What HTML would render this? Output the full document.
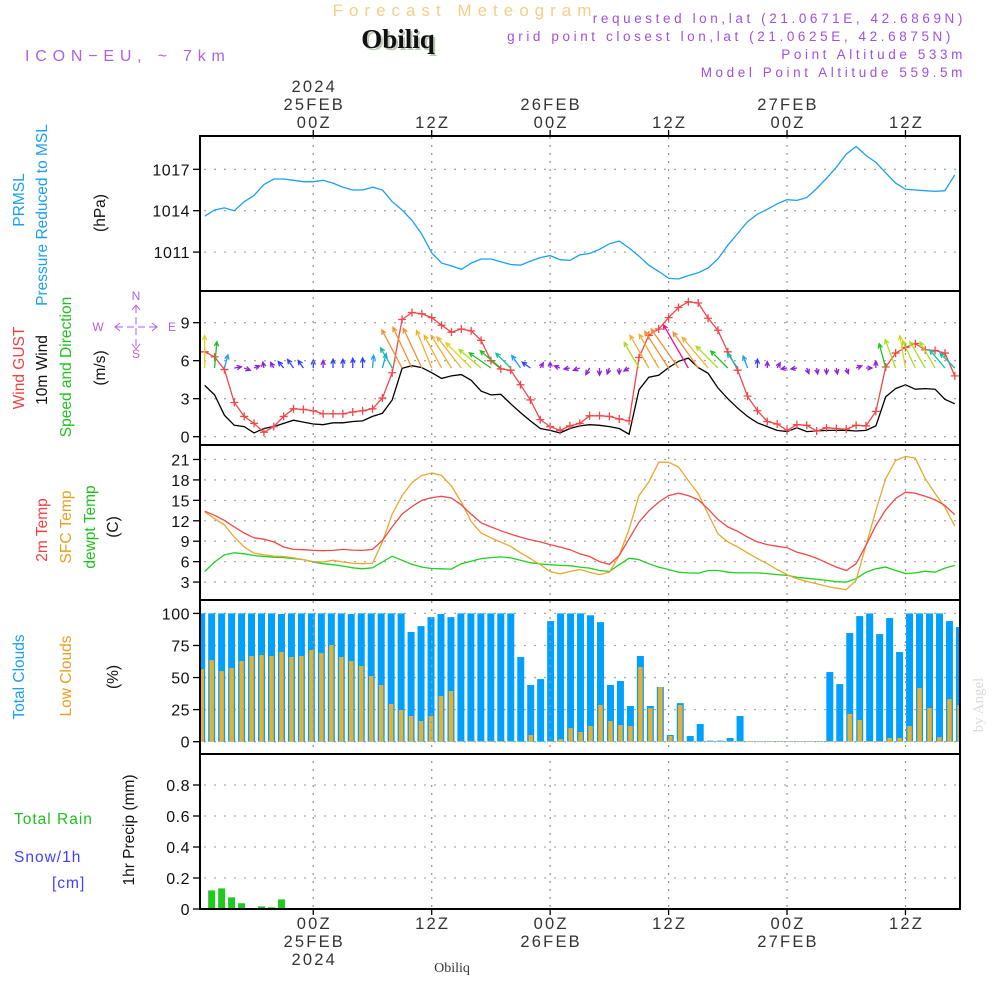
<!DOCTYPE html>
<html><head><meta charset="utf-8"><style>
html,body{margin:0;padding:0;background:#fff;}
svg{display:block;font-family:"Liberation Sans",sans-serif;}
</style></head><body>
<svg id="chart" width="1000" height="1000" viewBox="0 0 1000 1000" xmlns="http://www.w3.org/2000/svg">
<defs>
<clipPath id="cp"><rect x="201" y="137" width="758" height="772"/></clipPath>
</defs>
<!-- header -->
<text x="465" y="16" text-anchor="middle" font-size="17" fill="#f5cf88" letter-spacing="6">Forecast Meteogram</text>
<text x="400" y="50" text-anchor="middle" font-size="27" font-weight="bold" fill="#bcc8b8" font-family="Liberation Serif,serif">Obiliq</text>
<text x="398" y="48" text-anchor="middle" font-size="27" font-weight="bold" fill="#111" font-family="Liberation Serif,serif">Obiliq</text>
<text x="25" y="61" font-size="16" fill="#b060e0" letter-spacing="5.8">ICON−EU, ~ 7km</text>
<g font-size="13.5" fill="#a050e0" text-anchor="end" letter-spacing="3.6">
<text x="966" y="23">requested lon,lat (21.0671E, 42.6869N)</text>
<text x="954" y="41">grid point closest lon,lat (21.0625E, 42.6875N)</text>
<text x="966" y="59">Point Altitude 533m</text>
<text x="966" y="77">Model Point Altitude 559.5m</text>
</g>
<!-- left titles -->
<g font-size="15.5">
<text transform="translate(24,200) rotate(-90)" text-anchor="middle" fill="#1aa0f0">PRMSL</text>
<text transform="translate(47,215) rotate(-90)" text-anchor="middle" fill="#1aa0f0">Pressure Reduced to MSL</text>
<text transform="translate(105,213) rotate(-90)" text-anchor="middle" fill="#111">(hPa)</text>
<text transform="translate(24,368) rotate(-90)" text-anchor="middle" fill="#f04040">Wind GUST</text>
<text transform="translate(47,370) rotate(-90)" text-anchor="middle" fill="#111">10m Wind</text>
<text transform="translate(71,367) rotate(-90)" text-anchor="middle" fill="#20c020">Speed and Direction</text>
<text transform="translate(105,368) rotate(-90)" text-anchor="middle" fill="#111">(m/s)</text>
<text transform="translate(47,530) rotate(-90)" text-anchor="middle" fill="#f04040">2m Temp</text>
<text transform="translate(71,527) rotate(-90)" text-anchor="middle" fill="#e8a020">SFC Temp</text>
<text transform="translate(95,527) rotate(-90)" text-anchor="middle" fill="#20c020">dewpt Temp</text>
<text transform="translate(118,527) rotate(-90)" text-anchor="middle" fill="#111">(C)</text>
<text transform="translate(24,677) rotate(-90)" text-anchor="middle" fill="#1aa0f0">Total Clouds</text>
<text transform="translate(71,676) rotate(-90)" text-anchor="middle" fill="#e8a020">Low Clouds</text>
<text transform="translate(118,677) rotate(-90)" text-anchor="middle" fill="#111">(%)</text>
<text x="14" y="824" fill="#20c020" letter-spacing="1">Total  Rain</text>
<text x="14" y="862" fill="#4040ff" letter-spacing="1">Snow/1h</text>
<text x="52" y="888" fill="#4040ff" letter-spacing="1">[cm]</text>
<text transform="translate(134,830) rotate(-90)" text-anchor="middle" fill="#111">1hr Precip (mm)</text>
</g>
<g fill="#b060e0" stroke="#b060e0" font-size="12">
<text x="136" y="300" text-anchor="middle" stroke="none">N</text>
<text x="98" y="331" text-anchor="middle" stroke="none">W</text>
<text x="172" y="331" text-anchor="middle" stroke="none">E</text>
<text x="136" y="358" text-anchor="middle" stroke="none">S</text>
<path d="M116 327H157M136 306V348" stroke-dasharray="7,4" fill="none"/>
<path d="M120 323L115 327L120 331M152 323L157 327L152 331M132 310L136 305L140 310M132 344L136 349L140 344" fill="none"/>
</g>
<text transform="translate(983,705) rotate(-90)" text-anchor="middle" font-size="15" fill="#d8ddd8" font-family="Liberation Serif,serif">by Angel</text>
<text x="452" y="972" text-anchor="middle" font-size="14" fill="#333" font-family="Liberation Serif,serif">Obiliq</text>
<g id="content"></g>
</svg>
<script>
// ---- data (hourly, from 13Z 24FEB) ----
const timeTicks = [11, 23, 35, 47, 59, 71];
const timeLabelsZ = ["00Z","12Z","00Z","12Z","00Z","12Z"];
const timeLabelsDay = ["25FEB","","26FEB","","27FEB",""];
const pressure = [1013.6,1014.05,1014.2,1014.0,1014.65,1015.1,1015.9,1016.3,1016.3,1016.2,1016.1,1016.1,1016.2,1016.0,1015.7,1015.5,1015.5,1015.7,1015.5,1014.65,1014.05,1013.3,1012.3,1010.95,1010.2,1010.0,1009.75,1010.2,1010.5,1010.5,1010.3,1010.1,1010.05,1010.35,1010.6,1010.75,1010.45,1010.4,1010.8,1010.9,1011.2,1011.6,1011.8,1011.3,1010.7,1010.05,1009.6,1009.1,1009.05,1009.3,1009.5,1009.85,1010.5,1011.5,1012.35,1013.2,1013.75,1014.1,1014.5,1014.8,1014.75,1014.95,1015.6,1016.35,1017.15,1018.1,1018.65,1018.0,1017.5,1016.75,1016.0,1015.55,1015.5,1015.45,1015.4,1015.45,1016.6];
const gust = [6.7,6.3,5.3,2.7,1.6,1.05,0.35,0.8,1.6,2.2,2.15,2.05,1.8,1.8,1.8,1.95,2.05,2.2,3.05,5.05,9.25,9.8,9.7,9.4,8.8,8.25,8.5,8.35,7.6,6.0,5.35,5.25,4.1,2.9,1.35,0.8,0.5,0.85,1.05,1.65,1.65,1.6,1.4,1.25,6.25,8.0,8.5,9.4,10.2,10.65,10.55,9.35,8.4,6.7,5.25,3.2,2.05,1.2,1.0,0.5,0.95,0.9,0.45,0.7,0.65,0.6,0.9,0.85,2.0,5.5,6.6,7.05,7.35,6.85,6.8,6.6,4.8];
const wind10m = [4.05,3.3,1.7,0.9,0.8,0.3,0.65,0.8,1.05,1.3,1.15,1.0,0.95,1.1,1.1,1.2,1.25,1.6,1.85,2.9,5.4,5.6,5.45,5.05,4.6,4.8,4.9,4.45,3.6,3.3,3.35,2.6,1.9,1.25,0.65,0.5,0.3,0.65,0.85,0.95,0.9,0.8,0.65,0.2,3.7,4.7,4.85,5.45,5.95,6.2,5.45,5.0,3.85,3.0,2.25,1.6,1.1,0.8,0.5,0.4,0.7,0.4,0.45,0.5,0.5,0.5,0.45,0.5,0.85,3.15,3.8,4.1,3.75,3.8,3.75,2.95,2.6];
const windDirFrom = [180,185,195,260,290,250,170,150,140,145,145,180,180,180,180,180,180,185,195,150,152,155,155,158,152,148,142,135,130,125,130,135,145,125,210,180,110,80,70,30,0,20,0,60,150,150,150,147,145,150,145,140,135,135,145,160,180,180,210,80,80,340,350,0,350,340,250,270,180,165,160,170,155,150,150,140,135];
const temp2m = [13.4,12.8,12.05,11.1,10.2,9.5,9.3,8.9,8.15,7.8,7.75,7.65,7.6,7.65,7.8,7.7,7.65,7.8,9.1,11.1,13.0,14.1,15.0,15.4,15.6,15.35,14.35,12.95,11.7,11.1,10.55,10.05,9.6,9.2,8.9,8.5,8.15,7.75,7.15,6.75,6.0,5.6,6.9,9.35,11.8,13.45,14.75,15.7,16.05,15.7,15.1,13.75,12.2,11.1,10.45,9.6,8.9,8.5,8.25,8.05,7.4,7.0,6.5,5.85,5.2,4.7,5.7,8.4,11.3,13.6,15.25,16.2,16.05,15.6,15.1,14.25,12.9];
const tempSfc = [13.3,12.3,11.4,9.6,8.15,7.25,7.0,6.8,6.75,6.55,6.3,6.0,5.95,6.2,5.95,5.75,5.7,5.75,8.9,13.0,15.7,17.6,18.65,19.0,18.65,17.1,14.75,11.9,10.2,9.5,8.85,8.25,7.3,6.45,5.55,4.55,4.2,4.55,4.85,4.45,4.1,4.45,6.9,10.8,15.7,17.7,20.6,20.6,19.9,17.9,16.0,13.0,10.1,8.9,8.15,7.3,6.45,5.7,4.85,4.1,3.5,3.1,2.75,2.4,2.1,1.9,3.25,8.4,13.5,18.2,20.85,21.45,21.2,18.2,16.0,14.0,11.2];
const dewpt = [4.55,5.95,7.0,7.3,7.15,6.9,6.75,6.65,6.6,6.45,6.3,5.95,5.7,5.55,5.35,5.1,4.95,5.1,5.95,6.8,6.2,5.6,5.2,5.0,4.95,4.9,5.7,6.05,6.45,6.6,6.7,6.55,6.2,5.85,5.65,5.55,5.45,5.4,5.2,5.05,4.7,4.55,5.55,6.5,6.3,5.7,5.2,4.85,4.45,4.35,4.3,4.7,4.7,4.45,4.35,4.35,4.35,4.25,4.1,4.0,3.7,3.55,3.4,3.25,3.05,3.0,3.5,4.45,4.95,5.2,4.7,4.25,4.35,4.6,4.45,5.05,5.45];
const totalClouds = [100,100,100,100,100,100,100,100,99.5,100,100,100,100,100,100,99.5,100,100,100,100,100,85.5,90.1,97.1,99.5,97.1,100,100,100,100,100,100,66,44.2,48.8,94,100,100,100,98.5,93.2,44.2,47.3,27.8,66.8,27.8,42.6,5.2,30.1,4.4,13.8,0.8,0.8,2.9,20,0.5,0.5,0.5,0.5,0.5,0.5,0.5,0.5,54.3,44.9,84.7,97.9,100,83.9,96.4,69.9,100,100,100,100,94,89.4];
const lowClouds = [56.6,63.6,55,57.4,62.9,66.8,67.5,66.8,69.9,66,66.8,71.4,69.1,75.3,66,62.9,59,51.2,44.2,29.4,24.7,20,16.1,20,35.6,39.5,0.5,0.5,0.5,0.5,0.5,0.5,0,5.2,0,0.5,2,10.6,7.5,12.2,28.6,16.1,13,12.2,58.2,26.2,42.6,4.4,28.6,0.3,0.3,0.3,0.3,0.3,0.5,0.5,0.5,0.5,0.5,0.5,0.5,0.5,0.5,0.5,0.5,21.6,16.9,0.5,0.5,2.9,2.9,12.2,41.8,26.2,3.6,33.2,28.6];
const precip = [0,0.12,0.133,0.075,0.037,0.005,0.017,0.011,0.062,0.005];
const pTicks = [1011,1014,1017];
const wTicks = [0,3,6,9];
const tTicks = [3,6,9,12,15,18,21];
const cTicks = [0,25,50,75,100];
const rTicks = [0,0.2,0.4,0.6,0.8];
const rTickLabels = ["0","0.2","0.4","0.6","0.8"];

// ---- scales ----
const xL = i => 204.7 + 9.87 * i;
const xB = b => 201.7 + 9.97 * b;
const yP = v => 169.3 + (1017 - v) * 13.8;
const yW = v => 436.7 - v * 12.67;
const yT = v => 602.5 - v * 6.81;
const yC = v => 741.7 - v * 1.283;
const yR = v => 909 - v * 155;

const NS = "http://www.w3.org/2000/svg";
const root = document.getElementById('content');
function mk(tag, attrs, parent) {
  const e = document.createElementNS(NS, tag);
  for (const k in attrs) e.setAttribute(k, attrs[k]);
  (parent || root).appendChild(e);
  return e;
}
const L = 200, R = 960;
const panels = [[136,291],[291,445],[445,600],[600,754],[754,909]];

// grid
const grid = mk('g', {stroke:'#aaa','stroke-width':1.3,'stroke-dasharray':'2,8',fill:'none'});


function hgrid(ticks, sc) { ticks.forEach(t => mk('line',{x1:L+4,x2:R-2,y1:sc(t),y2:sc(t)},grid)); }
hgrid(pTicks,yP); hgrid(wTicks,yW); hgrid(tTicks,yT); hgrid(cTicks,yC); hgrid(rTicks,yR);

const plot = mk('g', {'clip-path':'url(#cp)'});



// clouds
totalClouds.forEach((v,b) => {
  const r = mk('rect',{x:xB(b)-3.5,y:yC(v),width:7,height:yC(0)-yC(v),fill:'#00a0ff'},plot);
  
  
});
lowClouds.forEach((v,b) => {
  const r = mk('rect',{x:xB(b)-2.2,y:yC(v),width:4.4,height:yC(0)-yC(v),fill:'#e8b030'},plot);
  
  
});
// precip
precip.forEach((v,b) => {
  const r = mk('rect',{x:xB(b)-3.5,y:yR(v),width:7,height:yR(0)-yR(v),fill:'#20c820'},plot);
  
  
});

// vertical time grid on top
const vg = mk('g', {stroke:'#999','stroke-width':1.3,'stroke-dasharray':'2,6'});


timeTicks.forEach(t => mk('line',{x1:xL(t),x2:xL(t),y1:137,y2:908},vg));

function line(arr, sc, color, name, w) {
  const d = arr.map((v,i) => (i?'L':'M') + xL(i).toFixed(1) + ' ' + sc(v).toFixed(1)).join('');
  const p = mk('path',{d:d,stroke:color,'stroke-width':w||1.3,fill:'none'},plot);
  
  
  return p;
}
line(pressure, yP, '#1aa0f0', 'pressure-line');
line(wind10m, yW, '#000', 'wind-10m-line');
line(gust, yW, '#f04848', 'gust-line');
const gm = mk('g',{stroke:'#f04848','stroke-width':1.3},plot);


gust.forEach((v,i) => { const x=xL(i), y=yW(v); mk('path',{d:`M${x-4} ${y}H${x+4}M${x} ${y-4}V${y+4}`},gm); });

// wind arrows
function wcol(s) {
  if (s < 1.0) return '#9020e0';
  if (s < 1.5) return '#3040ff';
  if (s < 2.2) return '#1aa0ff';
  if (s < 3.0) return '#10c0a0';
  if (s < 3.5) return '#20c020';
  if (s < 4.0) return '#a8e020';
  if (s < 4.5) return '#e8d020';
  if (s < 5.2) return '#f0b030';
  if (s < 6.0) return '#f09030';
  return '#f0108c';
}
const ag = mk('g',{fill:'none','stroke-width':1.3},plot);


windDirFrom.forEach((dir,i) => {
  const s = wind10m[i];
  const len = Math.max(6, s * 8);
  const a = (dir + 180) * Math.PI / 180;
  const x0 = xL(i), y0 = 368;
  const x1 = x0 + Math.sin(a)*len, y1 = y0 - Math.cos(a)*len;
  const h = 5, ha = 0.45;
  const bx = -Math.sin(a), by = Math.cos(a);
  const hx1 = x1 + h*(bx*Math.cos(ha) - by*Math.sin(ha)), hy1 = y1 + h*(bx*Math.sin(ha) + by*Math.cos(ha));
  const hx2 = x1 + h*(bx*Math.cos(-ha) - by*Math.sin(-ha)), hy2 = y1 + h*(bx*Math.sin(-ha) + by*Math.cos(-ha));
  const p = mk('path',{d:`M${x0} ${y0}L${x1} ${y1}M${hx1} ${hy1}L${x1} ${y1}L${hx2} ${hy2}`,stroke:wcol(s)},ag);
  
  
});

line(dewpt, yT, '#20d020', 'dewpoint-line');
line(tempSfc, yT, '#e8a830', 'sfc-temp-line');
line(temp2m, yT, '#f04848', '2m-temp-line');

// frames & ticks
const fr = mk('g',{stroke:'#000',fill:'none'});


panels.forEach(p => mk('rect',{x:L,y:p[0],width:R-L,height:p[1]-p[0],'stroke-width':2},fr));
const tk = mk('g',{'font-size':16,fill:'#111','text-anchor':'end','letter-spacing':0.5});


function yt(ticks, sc, labels) {
  ticks.forEach((t,k) => {
    mk('line',{x1:L-7,x2:L,y1:sc(t),y2:sc(t),stroke:'#000','stroke-width':1.3},fr);
    const e = mk('text',{x:L-10,y:sc(t)+6},tk); e.textContent = labels ? labels[k] : String(t);
  });
}
yt(pTicks,yP); yt(wTicks,yW); yt(tTicks,yT); yt(cTicks,yC); yt(rTicks,yR,rTickLabels);

const tl = mk('g',{'font-size':16.5,fill:'#333','text-anchor':'middle','letter-spacing':2.2});


timeTicks.forEach((t,k) => {
  const x = xL(t);
  mk('line',{x1:x,x2:x,y1:130,y2:136,stroke:'#000','stroke-width':1.3},fr);
  mk('line',{x1:x,x2:x,y1:909,y2:915,stroke:'#000','stroke-width':1.3},fr);
  let e = mk('text',{x:x+1,y:128},tl); e.textContent = timeLabelsZ[k];
  e = mk('text',{x:x+1,y:929},tl); e.textContent = timeLabelsZ[k];
  if (timeLabelsDay[k]) {
    e = mk('text',{x:x+1,y:110},tl); e.textContent = timeLabelsDay[k];
    e = mk('text',{x:x+1,y:947},tl); e.textContent = timeLabelsDay[k];
  }
});
let ey = mk('text',{x:xL(11)+1,y:92},tl); ey.textContent = '2024';
ey = mk('text',{x:xL(11)+1,y:965},tl); ey.textContent = '2024';
</script>
</body></html>
